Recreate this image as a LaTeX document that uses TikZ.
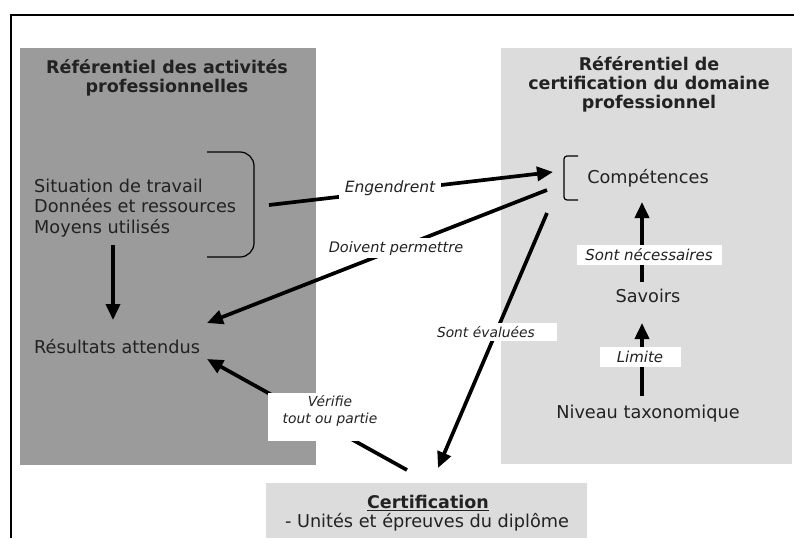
\documentclass[tikz,border=0pt]{standalone}
\usepackage{fontspec}
\setmainfont{DejaVu Sans}
\usetikzlibrary{arrows.meta}
\definecolor{darkbox}{HTML}{9B9B9B}
\definecolor{lightbox}{HTML}{DCDCDC}
\definecolor{ink}{HTML}{222222}
\begin{document}
\begin{tikzpicture}[x=1pt,y=-1pt,
  arr/.style={line width=3.7pt, -{Triangle[length=16pt,width=14pt]}},
  body/.style={font=\fontsize{17.7}{20.5}\selectfont, text=ink, inner sep=0pt},
  ttl/.style={font=\fontsize{17.5}{19}\selectfont\bfseries, text=ink, align=center, inner sep=0pt},
  lbl/.style={font=\fontsize{14.5}{17}\selectfont\itshape, text=ink, fill=white, inner sep=3pt},
  brk/.style={line width=1.2pt}
]
\useasboundingbox (0,0) rectangle (794,538);
\fill[white] (0,0) rectangle (794,538);
\draw[line width=2pt] (11,538) -- (11,14.5) -- (794,14.5);
% boxes
\fill[darkbox] (20,48) rectangle (316,465);
\fill[lightbox] (501,48) rectangle (792,464);
\fill[lightbox] (266,483) rectangle (587,538);
% titles
\node[ttl] (t1) at (167,78) {Référentiel des activités\\professionnelles};
\node[ttl] (t2) at (649,84) {Référentiel de\\certification du domaine\\professionnel};
% texts
\node[body, anchor=west, align=left] (sit) at (34,208) {Situation de travail\\Données et ressources\\Moyens utilisés};
\node[body, anchor=west] (res) at (34,347) {Résultats attendus};
\node[body] (comp) at (648,178) {Compétences};
\node[body] (sav) at (648,296) {Savoirs};
\node[body] (niv) at (648,414) {Niveau taxonomique};
\node[body, font=\fontsize{17.5}{20.5}\selectfont\bfseries] (cert) at (428,503) {\underline{Certification}};
\node[body] (unit) at (427,522) {- Unités et épreuves du diplôme};
% brackets
\draw[brk, rounded corners=14pt] (207,152) -- (254,152) -- (254,257) -- (207,257);
\draw[brk, rounded corners=3pt] (578,156) -- (564,156) -- (564,200) -- (578,200);
% connector end points
\coordinate (sitR) at (269,205);
\coordinate (compL) at (553,172);
\coordinate (compA) at (547,190);
\coordinate (resR) at (207,323);
\coordinate (compB) at (547,213);
\coordinate (certT) at (438,468);
\coordinate (certL) at (407,470);
\coordinate (resB) at (207,359);
\coordinate (sitB) at (113,245);
\coordinate (resT) at (113,320);
\coordinate (savT) at (642,282);
\coordinate (compB2) at (642,202);
\coordinate (nivT) at (642,396);
\coordinate (savB) at (642,323);
% connectors
\draw[arr] (sitR) -- (compL);
\draw[arr] (compA) -- (resR);
\draw[arr] (compB) -- (certT);
\draw[arr] (certL) -- (resB);
\draw[arr] (sitB) -- (resT);
\draw[arr] (savT) -- (compB2);
\draw[arr] (nivT) -- (savB);
% labels
\node[lbl, inner xsep=6pt, font=\fontsize{15.5}{17}\selectfont\itshape] (lEng) at (390,188) {Engendrent};
\node[lbl] (lDoi) at (396,248) {Doivent permettre};
\node[lbl, font=\fontsize{13.8}{17}\selectfont\itshape, inner sep=0pt, minimum width=124pt, minimum height=18pt, text width=116pt, align=left] (lEva) at (495,332) {Sont évaluées};
\fill[white] (268,393) rectangle (392,441);
\node[lbl, fill=none, font=\fontsize{13.8}{17}\selectfont\itshape, inner sep=0pt, align=center] (lVer) at (330,411) {Vérifie\\tout ou partie};
\node[lbl, font=\fontsize{15}{17}\selectfont\itshape, inner sep=0pt, minimum width=145pt, minimum height=20pt] (lNec) at (649,255) {Sont nécessaires};
\node[lbl, font=\fontsize{15}{17}\selectfont\itshape, inner sep=0pt, minimum width=81pt, minimum height=20pt] (lLim) at (640,357) {Limite};
\end{tikzpicture}
\end{document}
